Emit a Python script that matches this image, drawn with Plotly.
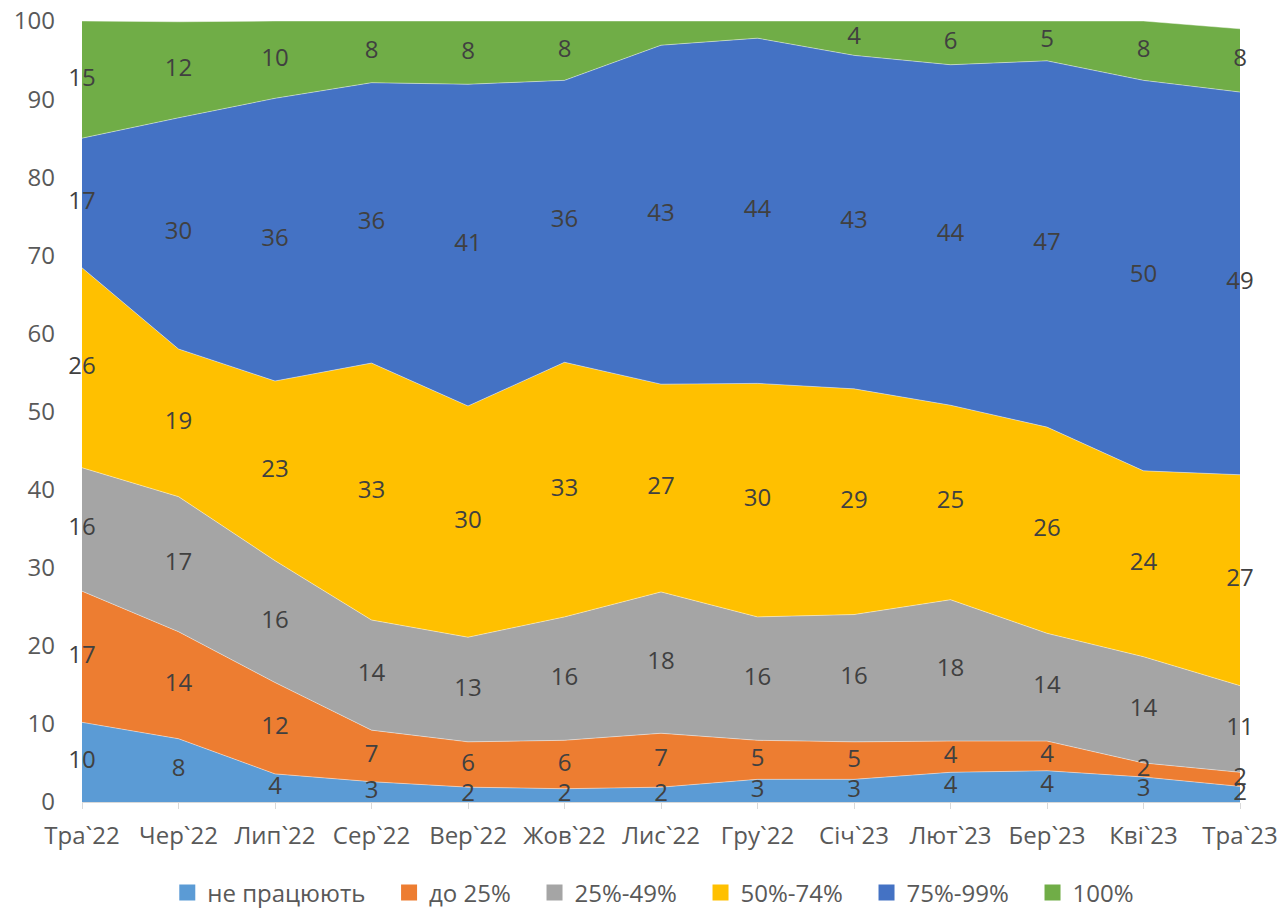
import plotly.graph_objects as go

categories = ["Тра`22", "Чер`22", "Лип`22", "Сер`22", "Вер`22", "Жов`22", "Лис`22",
              "Гру`22", "Січ`23", "Лют`23", "Бер`23", "Кві`23", "Тра`23"]

ne_pratsiuiut = [10.2, 8.1, 3.6, 2.6, 1.9, 1.7, 1.9, 2.9, 2.9, 3.8, 4.0, 3.2, 2.0]
do_25 = [16.8, 13.7, 11.7, 6.6, 5.8, 6.2, 6.9, 5.0, 4.8, 4.0, 3.8, 1.8, 1.8]
p25_49 = [15.8, 17.3, 15.6, 14.1, 13.4, 15.8, 18.1, 15.8, 16.3, 18.1, 13.8, 13.6, 11.1]
p50_74 = [25.6, 18.9, 23.0, 32.9, 29.6, 32.6, 26.6, 29.9, 28.9, 24.9, 26.4, 23.8, 27.0]
p75_99 = [16.6, 29.6, 36.2, 35.9, 41.2, 36.1, 43.4, 44.2, 42.7, 43.6, 46.9, 50.0, 49.0]
p100 = [15.0, 12.3, 9.9, 7.9, 8.1, 7.6, 3.1, 2.2, 4.4, 5.6, 5.1, 7.6, 8.1]
# labels hidden for these category indices in the 100% series
p100_hidden = [6, 7]

series_names = ["не працюють", "до 25%", "25%-49%", "50%-74%", "75%-99%", "100%"]
series_values = [ne_pratsiuiut, do_25, p25_49, p50_74, p75_99, p100]
series_colors = ["#5B9BD5", "#ED7D31", "#A5A5A5", "#FFC000", "#4472C4", "#70AD47"]

FONT = "Open Sans"
FS = 24
x = list(range(len(categories)))

fig = go.Figure()
cum = [0.0] * len(categories)
for i, (name, vals, col) in enumerate(zip(series_names, series_values, series_colors)):
    fig.add_trace(go.Scatter(
        x=x, y=vals, name=name, stackgroup="one", mode="lines",
        line=dict(width=0.8, color="rgba(255,255,255,0.55)"),
        fillcolor=col, showlegend=False, hoverinfo="skip",
    ))
    mids = [c + v / 2 for c, v in zip(cum, vals)]
    texts = [str(int(round(v))) for v in vals]
    if name == "100%":
        texts = [t if j not in p100_hidden else "" for j, t in enumerate(texts)]
    fig.add_trace(go.Scatter(
        x=x, y=mids, mode="text", text=texts, textposition="middle center",
        textfont=dict(family=FONT, size=FS, color="#404040"),
        showlegend=False, hoverinfo="skip", cliponaxis=False,
    ))
    cum = [c + v for c, v in zip(cum, vals)]

PAD = "\u00a0" * 3
for k, (name, col) in enumerate(zip(series_names, series_colors)):
    fig.add_trace(go.Scatter(
        x=[None], y=[None], mode="markers",
        name=name + (PAD if k < len(series_names) - 1 else ""),
        marker=dict(symbol="square", size=16, color=col),
        showlegend=True,
    ))

fig.update_layout(
    width=1286, height=913,
    margin=dict(l=82, r=46, t=21, b=111),
    paper_bgcolor="white", plot_bgcolor="white",
    showlegend=True,
    legend=dict(orientation="h", xref="container", yref="container",
                x=0.508, xanchor="center", y=0.022, yanchor="middle",
                traceorder="normal",
                font=dict(family=FONT, size=FS, color="#595959"),
                itemsizing="trace", itemwidth=30, tracegroupgap=0),
    font=dict(family=FONT, color="#595959"),
)
fig.update_xaxes(
    range=[0, len(categories) - 1], tickmode="array", tickvals=x, ticktext=categories,
    tickfont=dict(family=FONT, size=FS, color="#595959"),
    showgrid=False, zeroline=False, showline=True, linecolor="#D9D9D9", linewidth=1,
    ticks="outside", ticklen=6, tickcolor="#D9D9D9", ticklabelstandoff=6,
    automargin=False,
)
fig.update_yaxes(
    range=[0, 100], tickmode="array", tickvals=list(range(0, 101, 10)),
    tickfont=dict(family=FONT, size=FS, color="#595959"),
    showgrid=True, gridcolor="#D9D9D9", gridwidth=1, zeroline=False, showline=False,
    ticks="", ticklabelstandoff=26, automargin=False,
)

fig.write_html("out.html", config={"displayModeBar": False},
               post_script="document.body.style.margin='0';")
